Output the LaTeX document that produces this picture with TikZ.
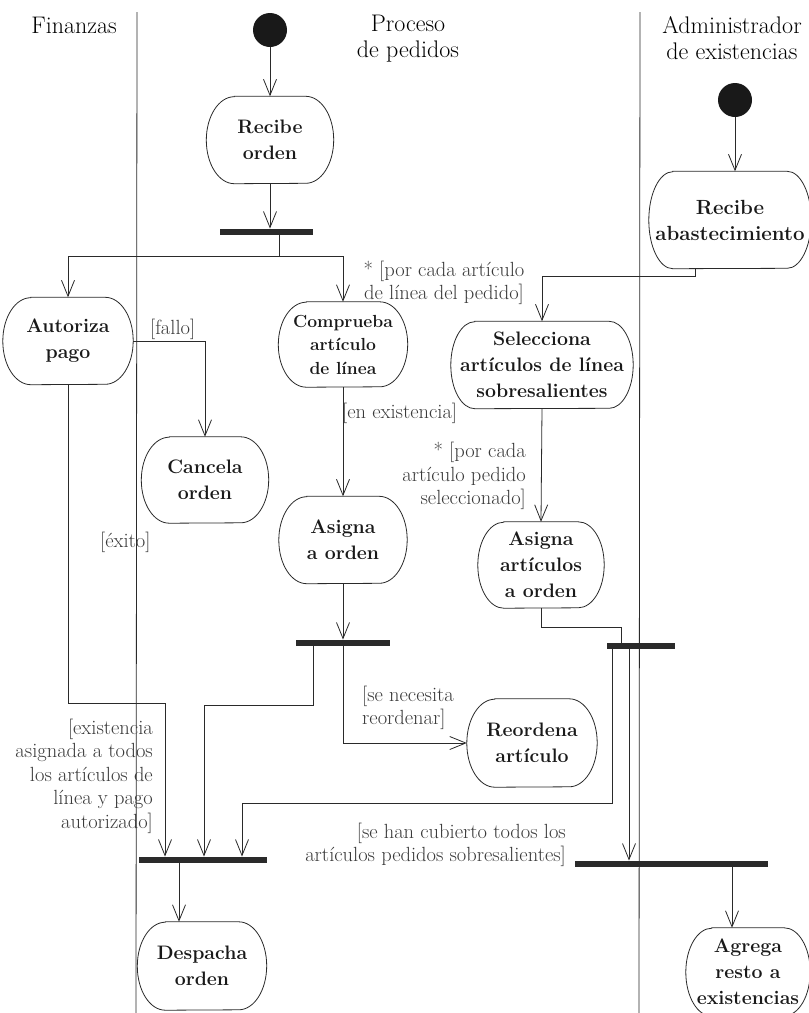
\documentclass[tikz,border=0pt]{standalone}
\usepackage{fontspec}
\usetikzlibrary{arrows.meta,calc}
\definecolor{ink}{HTML}{2A2A2A}
\definecolor{lbl}{HTML}{3A3A3A}
\begin{document}
\begin{tikzpicture}[x=1pt,y=-1pt,
  line/.style={draw=ink, line width=0.8pt},
  flow/.style={line, -{Straight Barb[length=16pt,width=13pt]}},
  act/.style={inner sep=0pt, align=center, text=black!90,
    font=\bfseries\fontsize{19.5}{26}\selectfont},
  actsmall/.style={act, font=\bfseries\fontsize{17.5}{23.5}\selectfont},
  bar/.style={fill=ink, inner sep=0pt, minimum height=6.5pt},
  guard/.style={text=lbl, inner sep=0pt, font=\fontsize{20.5}{23.5}\selectfont},
  lanehead/.style={text=black, align=center, inner sep=0pt,
    font=\fontsize{24}{26}\selectfont},
  startpt/.style={circle, fill=black!90, inner sep=0pt, minimum size=34pt}]

\useasboundingbox[fill=white] (0,0) rectangle (809,1013);

% swimlane separators
\draw[line] (137,12) -- (136,1013);
\draw[line] (640,12) -- (639,1013);

% lane titles
\node[lanehead] (hfin) at (74,25) {Finanzas};
\node[lanehead] (hproc) at (408,39) {Proceso\\de pedidos};
\node[lanehead] (hadm) at (732,38) {Administrador\\de existencias};

% activities
\node[startpt] (s1) at (270,30) {};
\node[act, minimum width=127pt, minimum height=87pt] (recibe) at (270,140) {Recibe\\orden};
\node[bar, minimum width=93pt] (fj1) at (266.5,232) {};
\node[act, minimum width=130pt, minimum height=87pt] (autoriza) at (68,341) {Autoriza\\pago};
\node[actsmall, minimum width=129pt, minimum height=85pt] (comprueba) at (343,344.5) {Comprueba\\artículo\\de línea};
\node[act, minimum width=127pt, minimum height=86pt] (cancela) at (205,480) {Cancela\\orden};
\node[act, minimum width=128pt, minimum height=87pt] (asigna) at (343,540) {Asigna\\a orden};
\node[bar, minimum width=94pt] (fj2) at (343,643) {};
\node[act, minimum width=130pt, minimum height=88pt] (reordena) at (532,743) {Reordena\\artículo};
\node[bar, minimum width=128pt] (fj3) at (203,860) {};
\node[act, minimum width=129pt, minimum height=88pt] (despacha) at (202,966) {Despacha\\orden};

\node[startpt] (s2) at (735,100) {};
\node[act, minimum width=162pt, minimum height=97pt, font=\bfseries\fontsize{20.5}{26}\selectfont] (recab) at (730,220) {Recibe\\abastecimiento};
\node[act, minimum width=182pt, minimum height=87pt] (selecciona) at (542,365) {Selecciona\\artículos de línea\\sobresalientes};
\node[act, minimum width=126pt, minimum height=86pt] (asart) at (541,565) {Asigna\\artículos\\a orden};
\node[bar, minimum width=68pt] (fj4) at (641,646) {};
\node[bar, minimum width=193pt] (fj5) at (671.5,864) {};
\node[act, minimum width=124pt, minimum height=88pt] (agrega) at (748,972) {Agrega\\resto a\\existencias};

% activity outlines with half-elliptic ends
\foreach \nd/\hh/\rx in {recibe/43.5/28, autoriza/43.5/28, comprueba/42.5/28,
    cancela/43/28, asigna/43.5/28, reordena/44/28, despacha/44/28,
    recab/48.5/24, selecciona/43.5/24, asart/43/26, agrega/44/26}
  \draw[line] ([xshift=\rx pt]\nd.north west) -- ([xshift=-\rx pt]\nd.north east)
    arc[start angle=90, end angle=-90, x radius=\rx pt, y radius=\hh pt]
    -- ([xshift=\rx pt]\nd.south west)
    arc[start angle=270, end angle=90, x radius=\rx pt, y radius=\hh pt] -- cycle;

% transitions
\draw[flow] (s1.south) -- (s1.south |- recibe.north);
\draw[flow] (recibe.south) -- (recibe.south |- fj1.north);
\coordinate (split1) at (279,256);
\draw[line] (split1 |- fj1.south) -- (split1);
\draw[flow] (split1) -| (autoriza.north);
\draw[flow] (split1) -| (comprueba.north);
\draw[flow] (autoriza.east) -| (cancela.north);
\coordinate (ok1) at (165,703);
\draw[flow] (autoriza.south) |- (ok1) -- (ok1 |- fj3.north);
\draw[flow] (comprueba.south) -- (asigna.north);
\draw[flow] (asigna.south) -- (asigna.south |- fj2.north);
\coordinate (j2a) at (204,705);
\draw[flow] ([xshift=-30pt]fj2.south) |- (j2a) -- (j2a |- fj3.north);
\draw[flow] (fj2.south) |- (reordena.west);
\draw[flow] (fj3.south -| 179,0) -- (179,0 |- despacha.north);

\draw[flow] (s2.south) -- (s2.south |- recab.north);
\draw[flow] ([xshift=-35pt]recab.south) |- ($(selecciona.north)+(0,-45)$) -- (selecciona.north);
\draw[flow] (selecciona.south) -- (asart.north);
\coordinate (a4) at (621,627);
\draw[line] (asart.south) |- (a4) -- (a4 |- fj4.north);
\coordinate (b4) at (242,803);
\draw[flow] ([xshift=-29pt]fj4.south) |- (b4) -- (b4 |- fj3.north);
\coordinate (c4) at (629,700);
\draw[flow] (c4 |- fj4.south) -- (c4 |- fj5.north);
\coordinate (d5) at (732,900);
\draw[flow] (d5 |- fj5.south) -- (d5 |- agrega.north);

% guards
\node[guard, align=center] (g1) at (444,283) {* [por cada artículo\\de línea del pedido]};
\node[guard, anchor=west] (g2) at (150,329) {[fallo]};
\node[guard, anchor=west] (g3) at (342,413) {[en existencia]};
\node[guard, anchor=east, align=right] (g4) at (526,476) {* [por cada\\artículo pedido\\seleccionado]};
\node[guard, anchor=west] (g5) at (100,542) {[éxito]};
\node[guard, anchor=west, align=left] (g6) at (362,708) {[se necesita\\reordenar]};
\node[guard, anchor=east, align=right] (g7) at (153,776) {[existencia\\asignada a todos\\los artículos de\\línea y pago\\autorizado]};
\node[guard, anchor=east, align=right] (g8) at (566,845) {[se han cubierto todos los\\artículos pedidos sobresalientes]};
\end{tikzpicture}
\end{document}
